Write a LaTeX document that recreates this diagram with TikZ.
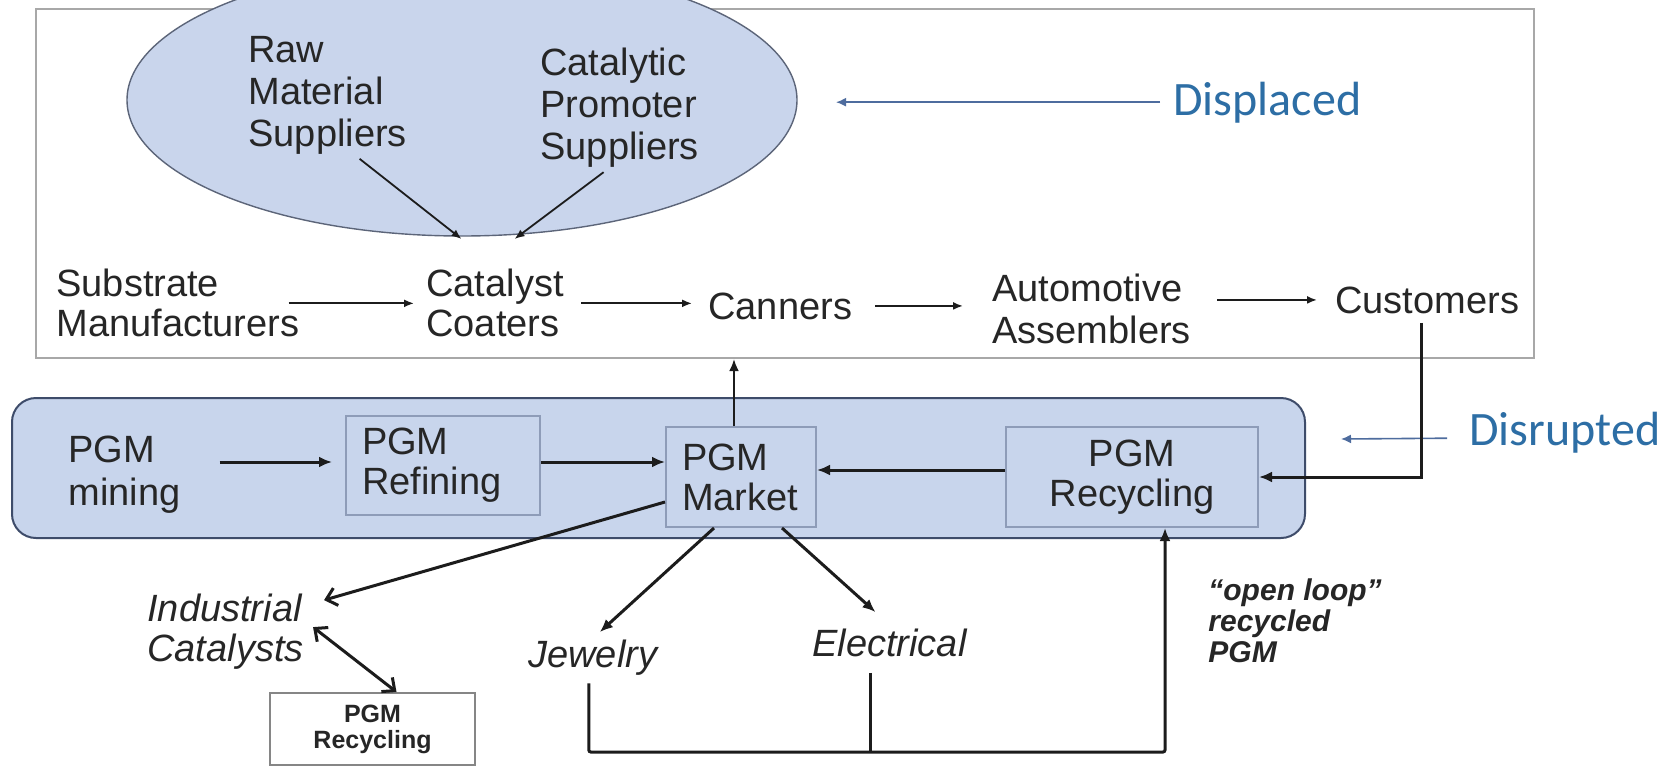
\documentclass[tikz,border=0pt]{standalone}
\usepackage{fontspec}
\setmainfont{Liberation Sans}
\newfontfamily\calib{Carlito}
\usetikzlibrary{arrows.meta,calc,shapes.geometric}
\definecolor{txt}{HTML}{262626}
\definecolor{ln}{HTML}{1C1C1C}
\definecolor{bluefill}{HTML}{C8D5EC}
\definecolor{blueedge}{HTML}{3E4C6A}
\definecolor{inneredge}{HTML}{8E9CB8}
\definecolor{ellfill}{HTML}{C9D5EC}
\definecolor{elledge}{HTML}{5C6579}
\definecolor{boxgray}{HTML}{A8A8A8}
\definecolor{labblue}{RGB}{45,110,165}
\definecolor{labarrow}{HTML}{4E6C9E}
\begin{document}
\begin{tikzpicture}[x=0.5pt,y=-0.5pt,
  lbl/.style={inner sep=0pt, text=txt, font=\fontsize{19}{21}\selectfont, align=left},
  boxnode/.style={draw=inneredge, fill=bluefill, line width=1pt, text=txt, inner ysep=0pt, font=\fontsize{19}{20}\selectfont},
  thinarr/.style={draw=ln, line width=0.9pt, -{Latex[length=5pt,width=4pt]}},
  thickarr/.style={draw=ln, line width=1.5pt, -{Latex[length=6.5pt,width=5.5pt]}},
  barbarr/.style={draw=ln, line width=1.5pt, -{Straight Barb[length=5pt,width=9pt]}},
  dblbarb/.style={draw=ln, line width=1.5pt, {Straight Barb[length=5pt,width=9pt]}-{Straight Barb[length=5pt,width=9pt]}},
  plainln/.style={draw=ln, line width=1.5pt},
  sidearr/.style={draw=labarrow, line width=0.8pt, -{Latex[length=5pt,width=4.5pt]}},
  sidelbl/.style={anchor=base west, inner sep=0pt, text=labblue, font=\calib\fontsize{24}{28}\selectfont}
]
\useasboundingbox (0,0) rectangle (1670,771);
\fill[white] (0,0) rectangle (1670,771);
\clip (0,0) rectangle (1670,771);

% upper (displaced) box
\node[draw=boxgray, line width=1pt, minimum width=749pt, minimum height=174.5pt, inner sep=0pt] (topbox) at (785,183.5) {};
\node[ellipse, draw=elledge, fill=ellfill, line width=0.7pt, minimum width=335pt, minimum height=136pt, inner sep=0pt] (ell) at (462,100) {};

\node[lbl, anchor=north west] (raw) at (248,36) {Raw\\Material\\Suppliers};
\node[lbl, anchor=north west] (prom) at (540,48) {Catalytic\\Promoter\\Suppliers};
\node[lbl, anchor=north west, font=\fontsize{19}{20}\selectfont] (sub) at (56,269) {Substrate\\Manufacturers};
\node[lbl, anchor=north west, font=\fontsize{19}{20}\selectfont] (cat) at (426,269) {Catalyst\\Coaters};
\node[lbl, anchor=base west] (can) at (708,319) {Canners};
\node[lbl, anchor=north west] (auto) at (992,274) {Automotive\\Assemblers};
\node[lbl, anchor=base west] (cust) at (1335,313) {Customers};

\draw[thinarr] ($(raw.south)+(16pt,-2pt)$) -- ($(cat.north)+(-16.75pt,15pt)$);
\draw[thinarr] ($(prom.south)+(-8pt,-2pt)$) -- ($(cat.north)+(9.75pt,15pt)$);
\draw[thinarr] ($(sub.east)+(-5.5pt,0)$) -- ($(cat.west)+(-6pt,0)$);
\draw[thinarr] ($(cat.east)+(8.5pt,0)$) -- ($(cat.east -| can.west)+(-8pt,0)$);
\draw[thinarr] ($(can.east)+(11.5pt,0)$) -- ($(can.east -| auto.west)+(-14.5pt,0)$);
\draw[thinarr] ($(auto.east |- cust.west)+(13pt,0)$) -- ($(cust.west)+(-9pt,0)$);

% side labels
\node[sidelbl] (disp) at (1173,115) {Displaced};
\coordinate (dispTip) at (836,100);
\draw[sidearr] ($(disp.west)+(-6.5pt,0)$) -- (disp.west -| dispTip);
\node[sidelbl] (disr) at (1469,445) {Disrupted};
\coordinate (disrTip) at (1341,439);
\draw[sidearr] ($(disr.west)+(-11pt,-3pt)$) -- (disrTip);

% disrupted band
\node[draw=blueedge, fill=bluefill, line width=1pt, rounded corners=12pt, minimum width=646.5pt, minimum height=70pt, inner sep=0pt] (band) at (658.5,468) {};

\node[lbl, anchor=north west, font=\fontsize{19}{21.5}\selectfont] (mining) at (68,436) {PGM\\mining};
\node[boxnode, minimum width=97pt, minimum height=49.5pt, text width=81pt, inner xsep=8pt, align=left] (ref) at (443,465.5) {PGM\\Refining};
\node[boxnode, minimum width=75pt, minimum height=50pt, text width=59pt, inner xsep=8pt, align=left] (market) at (741,477) {PGM\\Market};
\node[boxnode, minimum width=126pt, minimum height=50pt, inner xsep=0pt, align=center] (rec) at (1132,477) {PGM\\Recycling};

\draw[thickarr] ($(mining.east |- ref.west)+(19.5pt,1.75pt)$) -- ($(ref.west)+(-6.5pt,1.75pt)$);
\draw[thickarr] ($(ref.east)+(0,1.75pt)$) -- ($(ref.east -| market.west)+(0,1.75pt)$);
\draw[thickarr] ($(rec.west)+(0,3.5pt)$) -- ($(rec.west -| market.east)+(0,3.5pt)$);

\coordinate (mup) at ($(market.north)+(-3.5pt,0)$);
\draw[draw=ln, line width=1.2pt, -{Latex[length=6pt,width=5pt]}] (mup) -- (mup |- topbox.south);

\coordinate (cs) at ($(cust.south)+(-3pt,-4.5pt)$);
\draw[thickarr] (cs) |- (rec.east);

% end uses
\node[lbl, anchor=north west, font=\itshape\fontsize{19}{20}\selectfont] (ind) at (147,594) {Industrial\\Catalysts};
\node[lbl, anchor=base west, font=\itshape\fontsize{19}{21}\selectfont] (jew) at (528,667) {Jewelry};
\node[lbl, anchor=base west, font=\itshape\fontsize{19}{21}\selectfont] (elec) at (812,656) {Electrical};
\node[draw=boxgray!80!black, fill=white, line width=1pt, minimum width=102.5pt, minimum height=36pt, inner sep=0pt, text=txt, align=center, font=\bfseries\fontsize{12.5}{13}\selectfont] (smallrec) at (372.5,729) {PGM\\Recycling};
\node[lbl, anchor=north west, font=\bfseries\itshape\fontsize{15}{15.5}\selectfont] (open) at (1208,578) {“open loop”\\recycled\\PGM};

\draw[barbarr] ($(market.west)+(0,-12.5pt)$) -- ($(ind.east)+(10pt,16pt)$);
\draw[dblbarb] ($(ind.east)+(4.5pt,2.5pt)$) -- ($(smallrec.north)+(12pt,0)$);
\draw[thickarr] ($(market.south)+(-13.5pt,0)$) -- ($(jew.north)+(3.5pt,3.5pt)$);
\draw[thickarr] ($(market.south)+(20.5pt,0)$) -- ($(elec.north)+(-7pt,8pt)$);

\coordinate (js) at ($(jew.south)+(-2pt,-4pt)$);
\coordinate (es) at ($(elec.south)+(-9.5pt,-8pt)$);
\coordinate (jb) at (589,752);
\coordinate (recin) at ($(rec.south)+(16.5pt,0)$);
\draw[thickarr, rounded corners=1pt] (js) -- (js |- jb) -| (recin);
\draw[plainln] (es) -- (es |- jb);
\end{tikzpicture}
\end{document}
